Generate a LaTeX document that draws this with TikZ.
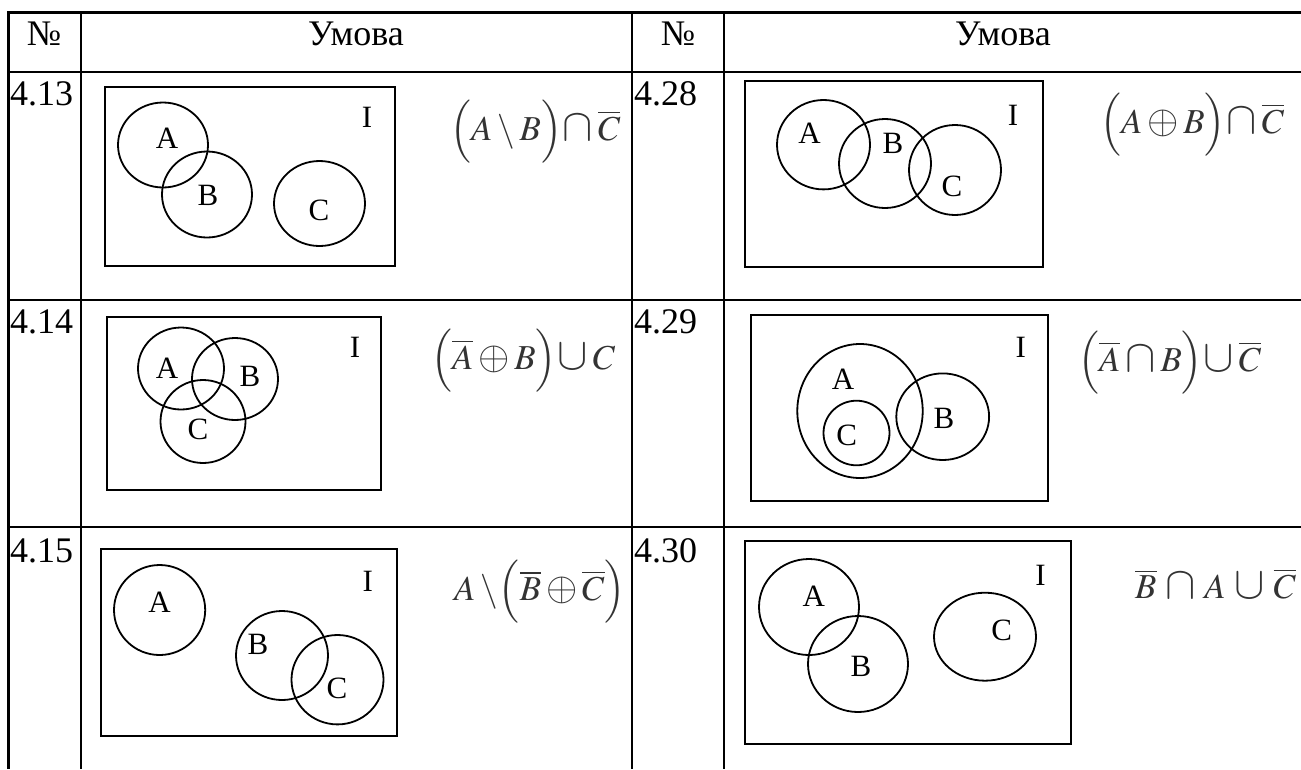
\documentclass[tikz,border=0pt]{standalone}
\usepackage{amsmath}
\usepackage{graphicx}
\usepackage{mathptmx}
\usepackage{fontspec}
\setmainfont{Liberation Serif}
\usetikzlibrary{shapes.geometric}
\newcommand{\bcap}{\mathbin{\scalebox{1.3}{$\cap$}}}
\newcommand{\bcup}{\mathbin{\scalebox{1.3}{$\cup$}}}
\newcommand{\bplus}{\mathbin{\scalebox{1.15}{$\oplus$}}}
\tikzset{
  tline/.style={line width=2.8pt},
  ubox/.style={line width=2pt},
  venn/.style={draw, ellipse, line width=1.8pt, inner sep=0pt},
  lbl/.style={font=\fontsize{31}{37}\selectfont, inner sep=0pt},
  hdr/.style={font=\fontsize{36}{43}\selectfont, inner sep=0pt},
  num/.style={font=\fontsize{36}{43}\selectfont, inner sep=0pt, anchor=base west},
  frm/.style={font=\fontsize{35}{42}\selectfont, inner sep=0pt, anchor=west, text=black!80},
}
\newcommand{\vn}[5]{\node[venn, minimum width=#4pt, minimum height=#5pt] (#1) at (#2,#3) {};}
\begin{document}
\begin{tikzpicture}[x=1pt,y=-1pt]
\useasboundingbox (0,0) rectangle (1301,769);
% table grid
\draw[tline] (8.5,12.5) -- (1301,12.5);
\draw[tline] (8.5,72) -- (1301,72);
\draw[tline] (8.5,300) -- (1301,300);
\draw[tline] (8.5,527) -- (1301,527);
\draw[tline] (8.5,11.1) -- (8.5,769);
\draw[tline] (81,12.5) -- (81,769);
\draw[tline] (632,12.5) -- (632,769);
\draw[tline] (724,12.5) -- (724,769);
% headers
\node[hdr] (h1) at (44,34) {№};
\node[hdr] (h2) at (356,34) {Умова};
\node[hdr] (h3) at (678,34) {№};
\node[hdr] (h4) at (1003,34) {Умова};
% row numbers
\node[num] (n13) at (10,105) {4.13};
\node[num] (n28) at (634,105) {4.28};
\node[num] (n14) at (10,333) {4.14};
\node[num] (n29) at (634,333) {4.29};
\node[num] (n15) at (10,562) {4.15};
\node[num] (n30) at (634,562) {4.30};
% ---- 4.13
\draw[ubox] (105,87) rectangle (395,266);
\vn{a13}{163}{145}{90}{85}
\vn{b13}{207}{194.5}{90}{86}
\vn{c13}{319.5}{203.5}{91}{85}
\node[lbl] (la13) at (167,138) {A};
\node[lbl] (lb13) at (208,195) {B};
\node[lbl] (lc13) at (319,210) {C};
\node[lbl] (li13) at (367,117) {I};
\node[frm] (f13) at (450,132) {$\Bigl(A\setminus B\Bigr)\!\bcap\overline{C}$};
% ---- 4.28
\draw[ubox] (745,81) rectangle (1043,267);
\vn{a28}{823.5}{144.7}{93}{89.4}
\vn{b28}{885}{163.5}{92}{89}
\vn{c28}{955}{170}{92}{90}
\node[lbl] (la28) at (809.5,133) {A};
\node[lbl] (lb28) at (893,143) {B};
\node[lbl] (lc28) at (952,186) {C};
\node[lbl] (li28) at (1013,115) {I};
\node[frm] (f28) at (1100,125) {$\Bigl(A\bplus B\Bigr)\!\bcap\overline{C}$};
% ---- 4.14
\draw[ubox] (107,317) rectangle (381,490);
\vn{a14}{181}{368.5}{86}{82}
\vn{b14}{235}{379}{86}{82}
\vn{c14}{203}{421.5}{85}{83}
\node[lbl] (la14) at (167,368) {A};
\node[lbl] (lb14) at (250,376) {B};
\node[lbl] (lc14) at (198,429) {C};
\node[lbl] (li14) at (355,347) {I};
\node[frm] (f14) at (431,361) {$\Bigl(\overline{A}\bplus B\Bigr)\!\bcup C$};
% ---- 4.29
\draw[ubox] (750.5,315) rectangle (1047.7,500.7);
\vn{a29}{860}{411}{125.4}{134}
\vn{c29}{856.5}{433}{66}{64.6}
\vn{b29}{942.7}{416.7}{92.8}{86.6}
\node[lbl] (la29) at (843,379) {A};
\node[lbl] (lc29) at (846.6,435) {C};
\node[lbl] (lb29) at (944,418) {B};
\node[lbl] (li29) at (1020.7,347) {I};
\node[frm] (f29) at (1078,363) {$\Bigl(\overline{A}\bcap B\Bigr)\!\bcup\overline{C}$};
% ---- 4.15
\draw[ubox] (100.7,549) rectangle (396.8,735.7);
\vn{a15}{159.6}{610}{91.2}{90}
\vn{b15}{282}{655.5}{92}{89}
\vn{c15}{337.5}{679.7}{92}{89.4}
\node[lbl] (la15) at (159.6,602.7) {A};
\node[lbl] (lb15) at (258,644) {B};
\node[lbl] (lc15) at (337,688) {C};
\node[lbl] (li15) at (367.7,581) {I};
\node[frm] (f15) at (454,592) {$A\setminus\!\Bigl(\overline{B}\bplus\overline{C}\Bigr)$};
% ---- 4.30
\draw[ubox] (744.6,541) rectangle (1071,744);
\vn{a30}{809}{607}{100}{96}
\vn{b30}{858}{664}{100}{96}
\vn{c30}{985}{636.7}{102}{88}
\node[lbl] (la30) at (813.7,596.7) {A};
\node[lbl] (lb30) at (861,666.7) {B};
\node[lbl] (lc30) at (1001.7,630) {C};
\node[lbl] (li30) at (1040.5,575) {I};
\node[frm] (f30) at (1135,584) {$\overline{B}\,\bcap\,A\,\bcup\,\overline{C}$};
\end{tikzpicture}
\end{document}
